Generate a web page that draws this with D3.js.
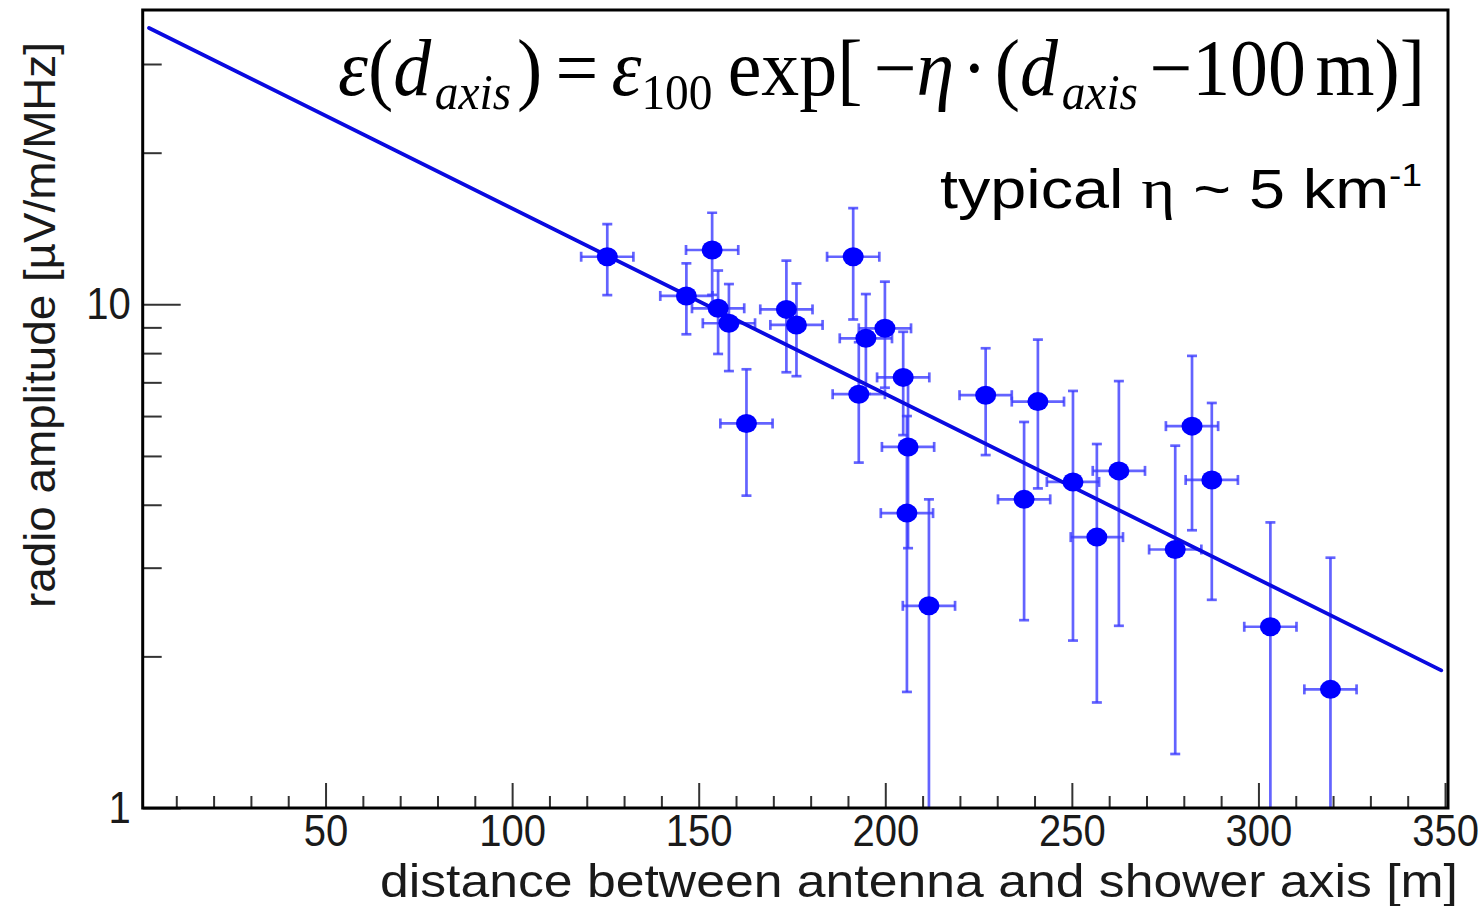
<!DOCTYPE html>
<html>
<head>
<meta charset="utf-8">
<script src="https://cdn.jsdelivr.net/npm/d3@7"></script>
<style>
  html, body { margin: 0; padding: 0; background: #ffffff; }
  svg { display: block; }
</style>
</head>
<body>
<svg id="chart" width="1478" height="906"></svg>
<script>
// Distance of each antenna from the reconstructed shower axis [m]
const distance = [125.5, 146.7, 153.6, 155.2, 158.1, 162.8, 173.5, 176.2, 191.4, 194.8,
                  199.9, 204.8, 192.9, 206.1, 205.8, 211.7, 226.9, 240.9, 237.2, 250.3,
                  256.7, 262.6, 277.7, 282.2, 287.5, 303.2, 319.3];
// Uncertainty on the distance [m], the same for every antenna
const distanceError = 7;
// Measured radio amplitude [µV/m/MHz]
const amplitude = [12.43, 10.39, 12.82, 9.82, 9.17, 5.80, 9.77, 9.10, 12.43, 8.56,
                   8.96, 7.16, 6.63, 5.21, 3.85, 2.52, 6.60, 6.41, 4.10, 4.44,
                   3.45, 4.67, 3.26, 5.73, 4.48, 2.29, 1.72];
// Amplitude uncertainty [µV/m/MHz]
const amplitudeError = [2.00, 1.67, 2.38, 1.85, 1.80, 1.63, 2.44, 1.90, 3.10, 1.92,
                        2.13, 1.66, 1.78, 1.93, 2.15, 1.58, 1.58, 2.10, 1.74, 2.29,
                        1.83, 2.37, 1.98, 2.17, 1.89, 1.40, 1.42];

// Exponential lateral fit  eps(d) = eps100 * exp(-eta * (d - 100 m))
const fitEps100 = 15.5;      // µV/m/MHz
const fitEta = 0.00848;      // 1/m
const fitRange = [2.7, 349]; // m

// Axis ticks
const xMajorTicks = [50, 100, 150, 200, 250, 300, 350];
const xMinorTicks = [10, 20, 30, 40, 60, 70, 80, 90, 110, 120, 130, 140, 160, 170, 180, 190,
                     210, 220, 230, 240, 260, 270, 280, 290, 310, 320, 330, 340];
const yMajorTicks = [1, 10];
const yMinorTicks = [2, 3, 4, 5, 6, 7, 8, 9, 20, 30];
const xDomain = [1, 350.8];
const yDomain = [1, 38.4];

const xTitle = "distance between antenna and shower axis [m]";
const yTitle = "radio amplitude [µV/m/MHz]";

// ---- layout ----
const plot = { left: 142.7, right: 1448, top: 10, bottom: 808 };
const SANS = "'Liberation Sans', Arial, Helvetica, sans-serif";
const SERIF = "'Liberation Serif', 'Times New Roman', Times, serif";
const INK = "#1a1a1a";

const svg = d3.select("#chart");

const x = d3.scaleLinear().domain(xDomain).range([plot.left, plot.right]);
const y = d3.scaleLog().domain(yDomain).range([plot.bottom, plot.top]);

svg.append("defs").append("clipPath").attr("id", "plotClip")
  .append("rect")
  .attr("x", plot.left).attr("y", plot.top)
  .attr("width", plot.right - plot.left).attr("height", plot.bottom - plot.top);

// ---- axes (ticks point into the frame) ----
function styleAxis(g) {
  g.select(".domain").remove();
  g.selectAll(".tick line").attr("stroke", "#333").attr("stroke-width", 2);
  g.selectAll(".tick text")
    .attr("fill", INK)
    .attr("transform", "scale(0.91,1)")
    .style("font-family", SANS)
    .style("font-size", "44px");
}

svg.append("g")
  .attr("transform", `translate(0,${plot.bottom})`)
  .call(d3.axisBottom(x).tickValues(xMinorTicks).tickSize(-12).tickFormat(""))
  .call(styleAxis);

svg.append("g")
  .attr("transform", `translate(0,${plot.bottom})`)
  .call(d3.axisBottom(x).tickValues(xMajorTicks).tickSize(-25).tickPadding(7).tickFormat(d3.format("d")))
  .call(styleAxis);

svg.append("g")
  .attr("transform", `translate(${plot.left},0)`)
  .call(d3.axisLeft(y).tickValues(yMinorTicks).tickSize(-19).tickFormat(""))
  .call(styleAxis);

svg.append("g")
  .attr("transform", `translate(${plot.left},0)`)
  .call(d3.axisLeft(y).tickValues(yMajorTicks).tickSize(-38).tickPadding(13).tickFormat(d3.format("d")))
  .call(styleAxis);

// ---- axis titles ----
svg.append("text")
  .attr("x", 380).attr("y", 897)
  .attr("textLength", 1078).attr("lengthAdjust", "spacingAndGlyphs")
  .attr("fill", INK)
  .style("font-family", SANS).style("font-size", "46px")
  .text(xTitle);

svg.append("text")
  .attr("transform", "translate(55,42) rotate(-90)")
  .attr("text-anchor", "end")
  .attr("textLength", 566).attr("lengthAdjust", "spacingAndGlyphs")
  .attr("fill", INK)
  .style("font-family", SANS).style("font-size", "44px")
  .text(yTitle);

// ---- data ----
const points = distance.map((d, i) => ({ d, v: amplitude[i], e: amplitudeError[i] }));
const data = svg.append("g").attr("clip-path", "url(#plotClip)");
const barColor = "#3c3cff";
const cap = 5;

const bars = data.append("g")
  .attr("stroke", barColor).attr("stroke-width", 2.7).attr("stroke-opacity", 0.8)
  .attr("fill", "none");

points.forEach(p => {
  const lo = Math.max(p.v - p.e, yDomain[0] * 0.5);
  const hi = p.v + p.e;
  const cx = x(p.d), yLo = y(lo), yHi = y(hi);
  bars.append("line").attr("x1", cx).attr("x2", cx).attr("y1", yLo).attr("y2", yHi);
  bars.append("line").attr("x1", cx - cap).attr("x2", cx + cap).attr("y1", yHi).attr("y2", yHi);
  if (p.v - p.e > yDomain[0]) {
    bars.append("line").attr("x1", cx - cap).attr("x2", cx + cap).attr("y1", yLo).attr("y2", yLo);
  }
  const xl = x(p.d - distanceError), xr = x(p.d + distanceError), cy = y(p.v);
  bars.append("line").attr("x1", xl).attr("x2", xr).attr("y1", cy).attr("y2", cy);
  bars.append("line").attr("x1", xl).attr("x2", xl).attr("y1", cy - cap).attr("y2", cy + cap);
  bars.append("line").attr("x1", xr).attr("x2", xr).attr("y1", cy - cap).attr("y2", cy + cap);
});

// fitted exponential (a straight line on the log axis)
const fit = d => fitEps100 * Math.exp(-fitEta * (d - 100));
data.append("path")
  .datum(fitRange)
  .attr("fill", "none")
  .attr("stroke", "#0a0ae0")
  .attr("stroke-width", 3.8)
  .attr("stroke-linecap", "round")
  .attr("d", d3.line().x(d => x(d)).y(d => y(fit(d))));

data.append("g").selectAll("ellipse")
  .data(points)
  .join("ellipse")
  .attr("cx", p => x(p.d))
  .attr("cy", p => y(p.v))
  .attr("rx", 10.5).attr("ry", 9.5)
  .attr("fill", "#0000ff");

// ---- frame ----
svg.append("rect")
  .attr("x", plot.left).attr("y", plot.top)
  .attr("width", plot.right - plot.left).attr("height", plot.bottom - plot.top)
  .attr("fill", "none").attr("stroke", "#000").attr("stroke-width", 3);

// ---- annotations ----
function richText(parts, baseline, size, family, left, right) {
  const g = svg.append("g");
  const t = g.append("text").attr("x", 0).attr("y", baseline)
    .attr("fill", "#000")
    .style("font-family", family).style("font-size", size + "px");
  let shift = 0;
  parts.forEach(p => {
    const target = p.shift || 0;
    const s = t.append("tspan").text(p.t).attr("dy", target - shift);
    shift = target;
    if (p.dx) s.attr("dx", p.dx);
    if (p.italic) s.style("font-style", "italic");
    if (p.size) s.style("font-size", p.size + "px");
    if (p.family) s.style("font-family", p.family);
  });
  const bb = t.node().getBBox();
  const s = (right - left) / bb.width;
  g.attr("transform", `translate(${left - s * bb.x},0) scale(${s},1)`);
  return g;
}

richText([
  { t: "ε", italic: true },
  { t: "(" },
  { t: "d", italic: true },
  { t: "axis", italic: true, size: 50, shift: 14, dx: 4 },
  { t: ")", dx: 6 },
  { t: "=", dx: 14 },
  { t: "ε", italic: true, dx: 14 },
  { t: "100", size: 50, shift: 14 },
  { t: "exp[", dx: 16 },
  { t: "−", dx: 12 },
  { t: "η", italic: true },
  { t: "·", dx: 8 },
  { t: "(", dx: 8 },
  { t: "d", italic: true },
  { t: "axis", italic: true, size: 50, shift: 14, dx: 4 },
  { t: "−100", dx: 12 },
  { t: "m)]", dx: 10 }
], 95, 80, SERIF, 338, 1425);

richText([
  { t: "typical " },
  { t: "η", family: SERIF },
  { t: " ~ 5 km" },
  { t: "-1", size: 32, shift: -22 }
], 208, 56, SANS, 940, 1422);
</script>
</body>
</html>
